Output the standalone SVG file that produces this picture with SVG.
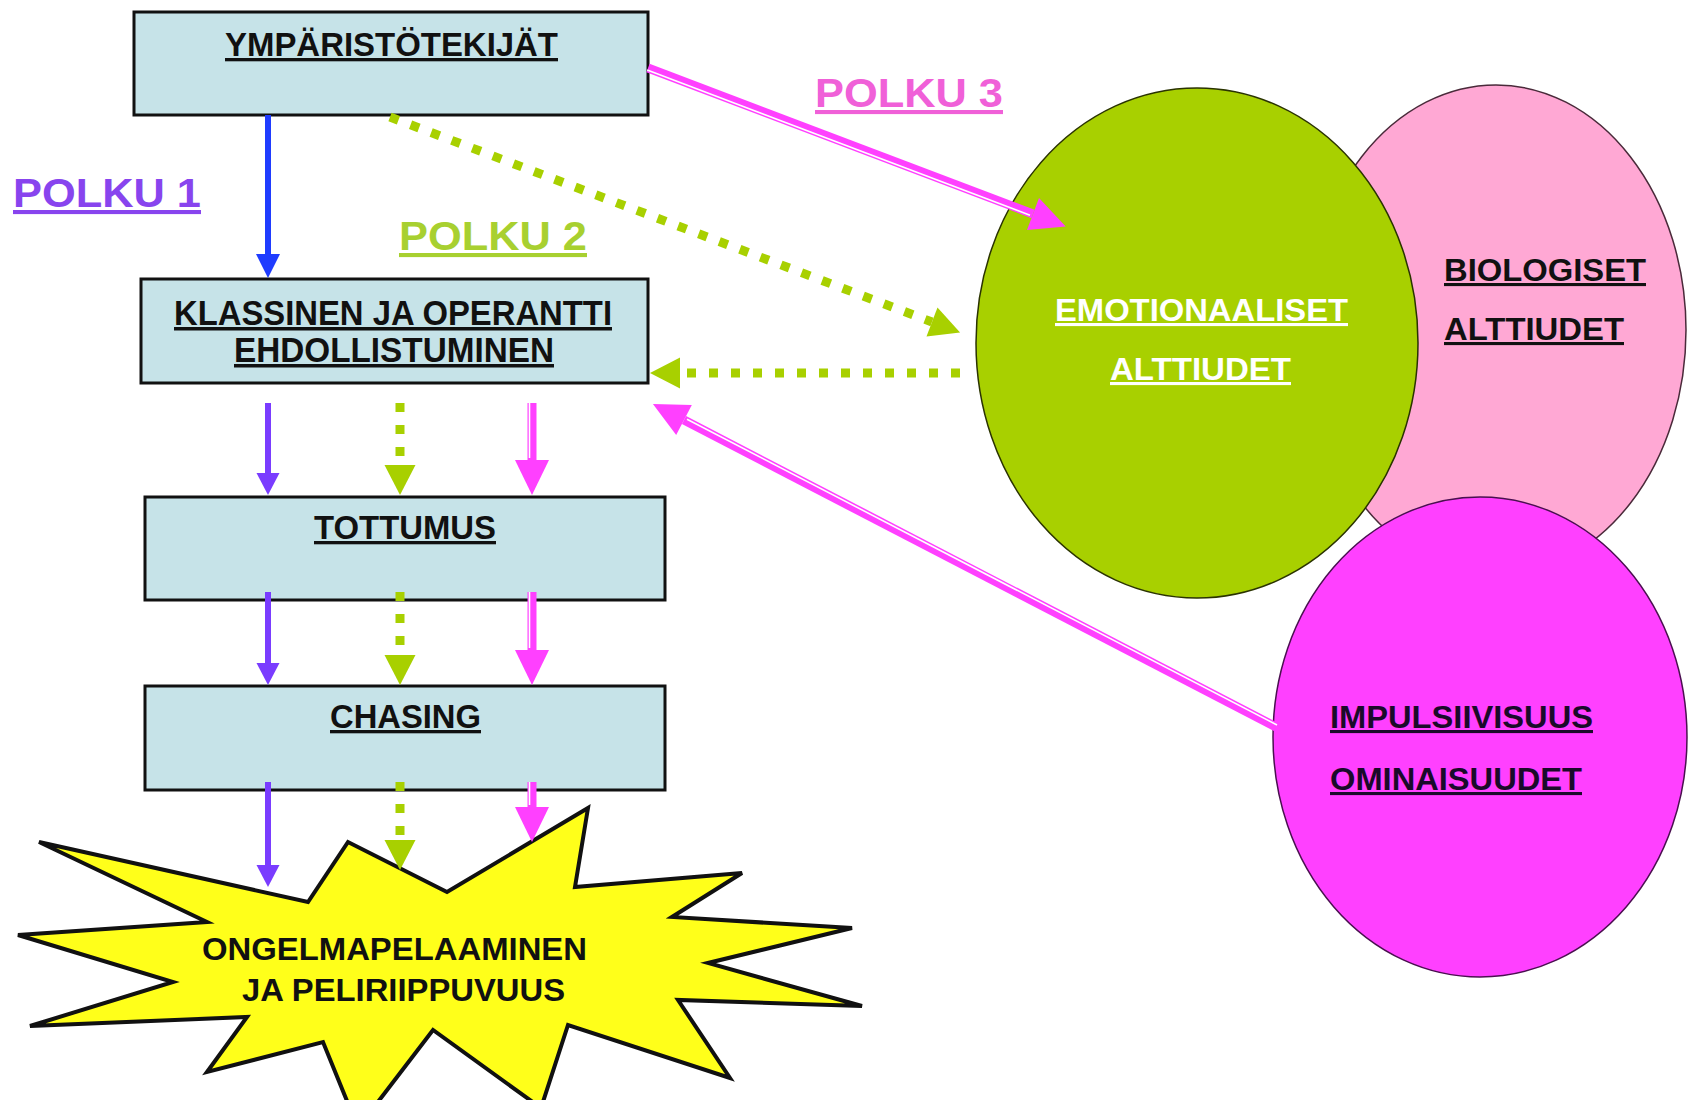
<svg xmlns="http://www.w3.org/2000/svg" width="1688" height="1100" viewBox="0 0 1688 1100">
<defs>
<style>
.box{fill:#c6e3e8;stroke:#111;stroke-width:3}
.t{font-family:"Liberation Sans",Arial,sans-serif;font-weight:bold;text-decoration:underline}
.blk{fill:#111}
.ln{fill:none;stroke-linecap:butt}
.blue{stroke:#1f3cff;stroke-width:6}
.purple{stroke:#7a3cff;stroke-width:6}
.green{stroke:#a8d000;stroke-width:9;stroke-dasharray:9 13}
.pink{stroke:#ff40ff;stroke-width:9}
.stripe{stroke:#ffffff;stroke-width:1.6}
</style>
<marker id="ah-blue" markerUnits="userSpaceOnUse" viewBox="0 -12 24 24" refX="0" refY="0" markerWidth="24" markerHeight="24" orient="auto" overflow="visible"><path d="M0,-12 L24,0 L0,12 z" fill="#1f3cff"/></marker>
<marker id="ah-purple" markerUnits="userSpaceOnUse" viewBox="0 -12 22 24" refX="0" refY="0" markerWidth="22" markerHeight="24" orient="auto" overflow="visible"><path d="M0,-11.5 L22,0 L0,11.5 z" fill="#7a3cff"/></marker>
<marker id="ah-green" markerUnits="userSpaceOnUse" viewBox="0 -16 30 32" refX="0" refY="0" markerWidth="30" markerHeight="32" orient="auto" overflow="visible"><path d="M0,-15.5 L30,0 L0,15.5 z" fill="#a8d000"/></marker>
<marker id="ah-pink" markerUnits="userSpaceOnUse" viewBox="0 -18 35 36" refX="0" refY="0" markerWidth="35" markerHeight="36" orient="auto" overflow="visible"><path d="M0,-17 L35,0 L0,17 z" fill="#ff40ff"/></marker>
</defs>
<rect width="1688" height="1100" fill="#ffffff"/>

<g id="polku-labels">
<text class="t" x="13" y="207" font-size="41" fill="#8844ee" textLength="188" lengthAdjust="spacingAndGlyphs">POLKU 1</text>
<text class="t" x="399" y="250" font-size="41" fill="#a8d030" textLength="188" lengthAdjust="spacingAndGlyphs">POLKU 2</text>
<text class="t" x="815" y="107" font-size="41" fill="#f060d8" textLength="188" lengthAdjust="spacingAndGlyphs">POLKU 3</text>
</g>

<g id="node-ymparisto">
<rect class="box" x="134" y="12" width="514" height="103"/>
<text class="t blk" x="225" y="56" font-size="33" textLength="333" lengthAdjust="spacingAndGlyphs">YMPÄRISTÖTEKIJÄT</text>
</g>
<g id="node-ehdollistuminen">
<rect class="box" x="141" y="279" width="507" height="104"/>
<text class="t blk" x="174" y="325" font-size="35" textLength="438" lengthAdjust="spacingAndGlyphs">KLASSINEN JA OPERANTTI</text>
<text class="t blk" x="234" y="362" font-size="35" textLength="320" lengthAdjust="spacingAndGlyphs">EHDOLLISTUMINEN</text>
</g>
<g id="node-tottumus">
<rect class="box" x="145" y="497" width="520" height="103"/>
<text class="t blk" x="314" y="539" font-size="33" textLength="182" lengthAdjust="spacingAndGlyphs">TOTTUMUS</text>
</g>
<g id="node-chasing">
<rect class="box" x="145" y="686" width="520" height="104"/>
<text class="t blk" x="330" y="728" font-size="33" textLength="151" lengthAdjust="spacingAndGlyphs">CHASING</text>
</g>

<g id="node-biologiset">
<ellipse cx="1496" cy="330" rx="190" ry="245" fill="#ffa8d4" stroke="#4a2a3a" stroke-width="1.5"/>
<text class="t blk" x="1444" y="281" font-size="31" textLength="202" lengthAdjust="spacingAndGlyphs">BIOLOGISET</text>
<text class="t blk" x="1444" y="340" font-size="31" textLength="180" lengthAdjust="spacingAndGlyphs">ALTTIUDET</text>
</g>
<g id="node-emotionaaliset">
<ellipse cx="1197" cy="343" rx="221" ry="255" fill="#a8d000" stroke="#2a3300" stroke-width="1.5"/>
<text class="t" x="1055" y="321" font-size="31" fill="#ffffff" textLength="293" lengthAdjust="spacingAndGlyphs">EMOTIONAALISET</text>
<text class="t" x="1110" y="380" font-size="31" fill="#ffffff" textLength="181" lengthAdjust="spacingAndGlyphs">ALTTIUDET</text>
</g>
<g id="node-impulsiivisuus">
<ellipse cx="1480" cy="737" rx="207" ry="240" fill="#ff40ff" stroke="#4a1050" stroke-width="1.5"/>
<text class="t" x="1330" y="728" font-size="31" fill="#1a0a2a" textLength="263" lengthAdjust="spacingAndGlyphs">IMPULSIIVISUUS</text>
<text class="t" x="1330" y="790" font-size="31" fill="#1a0a2a" textLength="252" lengthAdjust="spacingAndGlyphs">OMINAISUUDET</text>
</g>

<g id="node-ongelmapelaaminen">
<polygon points="39,842 308,902 348,842 447,892 588,808 575,887 742,873 672,917 852,928 708,963 862,1006 678,1000 730,1078 568,1025 541,1108 433,1030 358,1128 323,1042 207,1072 247,1017 30,1026 173,982 18,935 207,922" fill="#ffff1a" stroke="#111" stroke-width="4" stroke-linejoin="miter"/>
<text x="202" y="960" font-family="Liberation Sans, Arial, sans-serif" font-weight="bold" font-size="32" fill="#111" textLength="385" lengthAdjust="spacingAndGlyphs">ONGELMAPELAAMINEN</text>
<text x="242" y="1001" font-family="Liberation Sans, Arial, sans-serif" font-weight="bold" font-size="32" fill="#111" textLength="323" lengthAdjust="spacingAndGlyphs">JA PELIRIIPPUVUUS</text>
</g>

<g id="connectors">
<path class="ln blue" d="M268,115 V254" marker-end="url(#ah-blue)"/>
<path class="ln purple" d="M268,403 V473" marker-end="url(#ah-purple)"/>
<path class="ln purple" d="M268,592 V663" marker-end="url(#ah-purple)"/>
<path class="ln purple" d="M268,782 V865" marker-end="url(#ah-purple)"/>
<path class="ln green" d="M400,403 V465" marker-end="url(#ah-green)"/>
<path class="ln green" d="M400,592 V655" marker-end="url(#ah-green)"/>
<path class="ln green" d="M400,782 V840" marker-end="url(#ah-green)"/>
<path class="ln pink" d="M532,403 V460" marker-end="url(#ah-pink)"/>
<path class="ln stripe" d="M529.5,403 V458"/>
<path class="ln pink" d="M532,592 V650" marker-end="url(#ah-pink)"/>
<path class="ln stripe" d="M529.5,592 V648"/>
<path class="ln pink" d="M532,782 V807" marker-end="url(#ah-pink)"/>
<path class="ln stripe" d="M529.5,782 V805"/>
<path class="ln green" d="M390,117 L932,322" marker-end="url(#ah-green)"/>
<path class="ln green" d="M960,373 H680" marker-end="url(#ah-green)"/>
<path class="ln pink" d="M648,68 L1033,214" marker-end="url(#ah-pink)"/>
<path class="ln stripe" d="M647.2,70.1 L1030,215.2"/>
<path class="ln pink" d="M1276,727 L684,420" marker-end="url(#ah-pink)"/>
<path class="ln stripe" d="M1277,725 L687,419.2"/>
</g>
</svg>
